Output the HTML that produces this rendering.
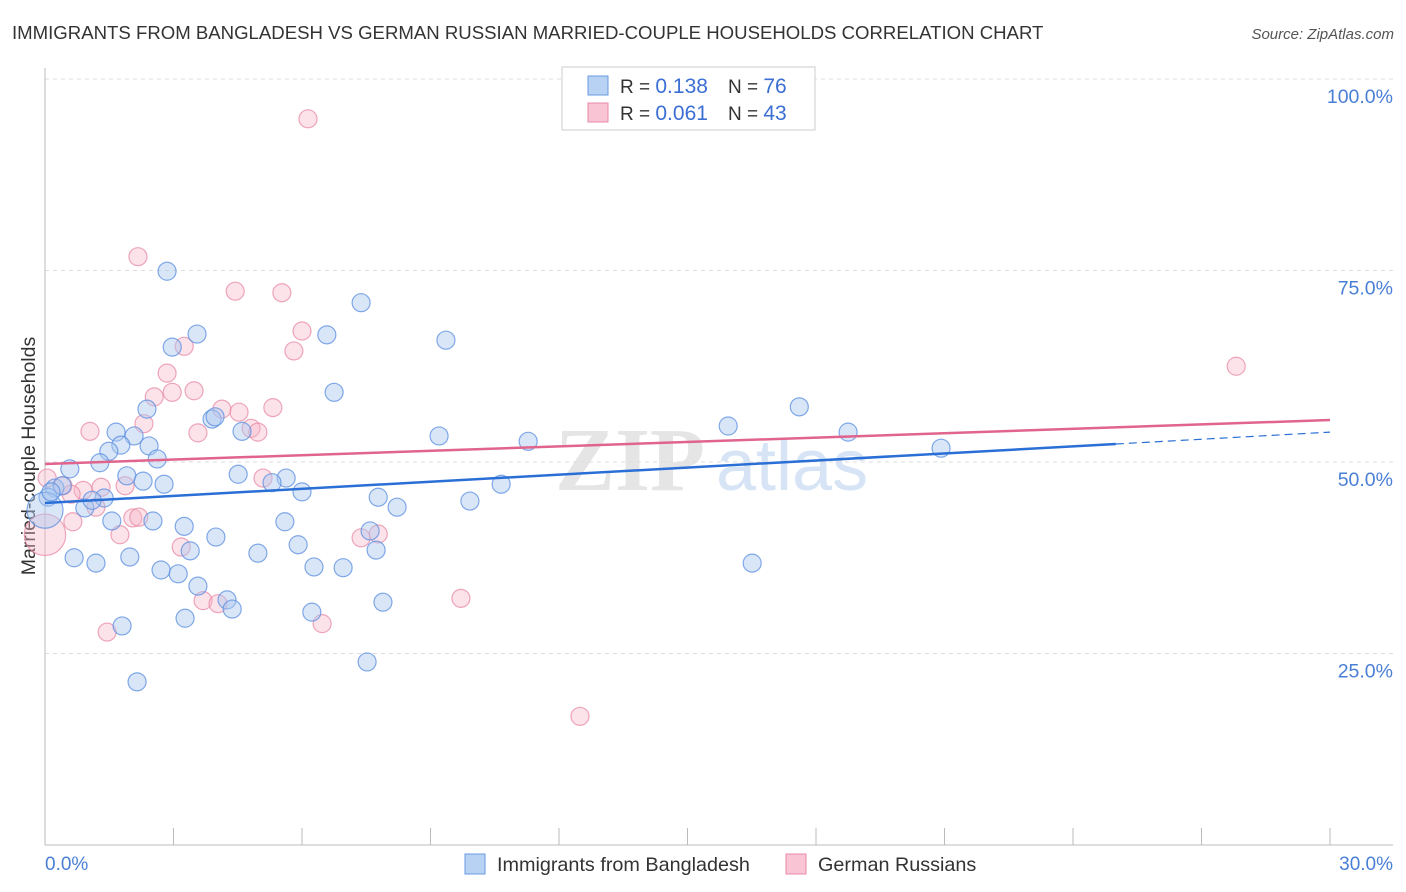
<!DOCTYPE html>
<html><head><meta charset="utf-8"><style>
body{margin:0;background:#fff;font-family:"Liberation Sans",sans-serif}
#wrap{position:relative;width:1406px;height:892px;overflow:hidden}
</style></head><body>
<div id="wrap">
<svg id="svg" width="1406" height="892" xmlns="http://www.w3.org/2000/svg"></svg>
</div>
<script>
const blueX=[2.85,3.55,2.97,6.58,7.38,9.36,6.75,2.38,3.90,3.97,1.66,2.08,4.60,9.20,1.77,2.43,1.49,2.62,1.28,0.58,11.28,15.95,17.61,18.75,20.92,1.91,2.29,4.51,2.78,5.63,5.30,6.00,7.78,8.22,9.92,10.65,0.23,0.40,0.07,0.93,1.38,1.10,1.56,2.52,3.25,5.60,3.99,7.59,7.73,3.39,4.97,5.91,0.68,1.19,1.98,2.71,3.11,3.57,6.28,6.96,16.51,4.25,4.37,7.89,3.27,6.23,1.80,7.52,2.15,0,0.14];
const blueY=[74.9,66.7,65.0,66.6,70.8,65.9,59.1,56.9,55.6,55.9,53.9,53.4,54.0,53.4,52.2,52.1,51.4,50.4,49.9,49.1,52.7,54.7,57.2,53.9,51.8,48.2,47.5,48.4,47.1,47.9,47.3,46.1,45.4,44.1,44.9,47.1,46.6,46.9,45.4,44.0,45.3,45.0,42.3,42.3,41.6,42.2,40.2,41.0,38.5,38.4,38.1,39.2,37.5,36.8,37.6,35.9,35.4,33.8,36.3,36.2,36.8,32.0,30.8,31.7,29.6,30.4,28.6,23.9,21.3,43.7,46.1];
const blueSize=blueX.map((v,i)=>i===69?2.0:1);
const pinkX=[6.14,2.17,4.44,5.53,6.00,3.25,5.81,2.85,3.48,2.55,2.97,4.13,4.53,5.32,1.05,2.31,3.57,4.81,4.97,27.81,0.42,0.89,0.61,1.31,1.87,1.19,2.05,0.65,1.75,2.19,5.09,3.18,3.69,4.04,6.47,7.38,7.78,9.71,1.45,12.49,0,0.05];
const pinkY=[94.8,76.8,72.3,72.1,67.1,65.1,64.5,61.6,59.3,58.5,59.1,56.9,56.5,57.1,54.0,55.0,53.8,54.4,53.9,62.5,46.9,46.3,45.8,46.7,46.9,44.1,42.7,42.2,40.5,42.8,47.9,38.9,31.9,31.5,28.9,40.1,40.6,32.2,27.8,16.8,40.5,47.9];
const pinkSize=pinkX.map((v,i)=>i===40?2.3:1);
const blueTrend=[[0,44.65],[25,52.35],[30,53.9]];
const pinkTrend=[[0,49.74],[30,55.48]];
const yTicks=[25,50,75,100];
const yTickLabels=["25.0%","50.0%","75.0%","100.0%"];
const xTicks=[0,3,6,9,12,15,18,21,24,27,30];

const NS="http://www.w3.org/2000/svg";
const svg=document.getElementById('svg');
const X=v=>45+v/30*1285;
const Y=v=>845-v/100*766;
function mk(tag,attrs,parent){const e=document.createElementNS(NS,tag);for(const k in attrs)e.setAttribute(k,attrs[k]);(parent||svg).appendChild(e);return e;}

let t=mk('text',{x:12,y:39,'font-size':18.6,fill:'#333'});t.textContent='IMMIGRANTS FROM BANGLADESH VS GERMAN RUSSIAN MARRIED-COUPLE HOUSEHOLDS CORRELATION CHART';


t=mk('text',{x:1394,y:39,'font-size':15,fill:'#555','text-anchor':'end','font-style':'italic'});t.textContent='Source: ZipAtlas.com';



t=mk('text',{x:555,y:490,'font-size':90,fill:'#e5e5e5','font-family':'Liberation Serif',"font-weight":"bold"});t.textContent='ZIP';


t=mk('text',{x:716,y:490,'font-size':72,fill:'#d6e4f5'});t.textContent='atlas';



mk('line',{x1:45,x2:1393,y1:Y(100),y2:Y(100),stroke:'#ddd','stroke-dasharray':'4,4'});
yTicks.forEach((v,i)=>{
  const g=mk('line',{x1:45,x2:1393,y1:Y(v),y2:Y(v),stroke:'#ddd','stroke-dasharray':'4,4'});
  
  
  const l=mk('text',{x:1393,y:Y(v)+24,'font-size':19.5,fill:'#4a7fd6','text-anchor':'end'});l.textContent=yTickLabels[i];
  
  
});
mk('line',{x1:45,x2:45,y1:68,y2:845,stroke:'#bbb'});
mk('line',{x1:45,x2:1393,y1:845,y2:845,stroke:'#bbb'});
xTicks.forEach(v=>{const k=mk('line',{x1:X(v),x2:X(v),y1:828,y2:845,stroke:'#bbb'});
  
  });
t=mk('text',{x:45,y:870,'font-size':19,fill:'#4a7fd6'});t.textContent='0.0%';


t=mk('text',{x:1393,y:870,'font-size':19,fill:'#4a7fd6','text-anchor':'end'});t.textContent='30.0%';


t=mk('text',{x:0,y:0,'font-size':19.5,fill:'#333','text-anchor':'middle',transform:'translate(35,456) rotate(-90)'});t.textContent='Married-couple Households';



function pts(xs,ys,sz,fill,stroke,op,name){xs.forEach((v,i)=>{
  const c=mk('circle',{cx:X(v),cy:Y(ys[i]),r:9*sz[i],fill:fill,'fill-opacity':op,stroke:stroke,'stroke-width':1.2,'stroke-opacity':0.75});
  
  
});}
pts(pinkX,pinkY,pinkSize,'#f7b6c8','#e88aa6',0.4,'pink-point');
pts(blueX,blueY,blueSize,'#aac8f0','#5a8ee0',0.45,'blue-point');

let ln=mk('line',{x1:X(blueTrend[0][0]),y1:Y(blueTrend[0][1]),x2:X(blueTrend[1][0]),y2:Y(blueTrend[1][1]),stroke:'#2a6fd6','stroke-width':2.5});


ln=mk('line',{x1:X(blueTrend[1][0]),y1:Y(blueTrend[1][1]),x2:X(blueTrend[2][0]),y2:Y(blueTrend[2][1]),stroke:'#2a6fd6','stroke-width':1.2,'stroke-dasharray':'8,5'});


ln=mk('line',{x1:X(pinkTrend[0][0]),y1:Y(pinkTrend[0][1]),x2:X(pinkTrend[1][0]),y2:Y(pinkTrend[1][1]),stroke:'#e0648c','stroke-width':2.5});



const lg=mk('g',{});


mk('rect',{x:562,y:67,width:253,height:63,fill:'#fff',stroke:'#ccc'},lg);
mk('rect',{x:588,y:76,width:20,height:19,fill:'#b8d2f4',stroke:'#6a9ae0'},lg);
mk('rect',{x:588,y:103,width:20,height:19,fill:'#f9c4d4',stroke:'#e88aa6'},lg);
[['0.138','76',93],['0.061','43',120]].forEach(r=>{
  let a=mk('text',{x:620,y:r[2],'font-size':19,fill:'#333'},lg);a.innerHTML='R = <tspan fill="#3b6fd4" font-size="21">'+r[0]+'</tspan>';
  a=mk('text',{x:728,y:r[2],'font-size':19,fill:'#333'},lg);a.innerHTML='N = <tspan fill="#3b6fd4" font-size="21">'+r[1]+'</tspan>';
});
const bl=mk('g',{});


mk('rect',{x:465,y:854,width:20,height:20,fill:'#b8d2f4',stroke:'#6a9ae0'},bl);
t=mk('text',{x:497,y:871,'font-size':19.8,fill:'#333'},bl);t.textContent='Immigrants from Bangladesh';
mk('rect',{x:786,y:854,width:20,height:20,fill:'#f9c4d4',stroke:'#e88aa6'},bl);
t=mk('text',{x:818,y:871,'font-size':19.8,fill:'#333'},bl);t.textContent='German Russians';
</script>
</body></html>
